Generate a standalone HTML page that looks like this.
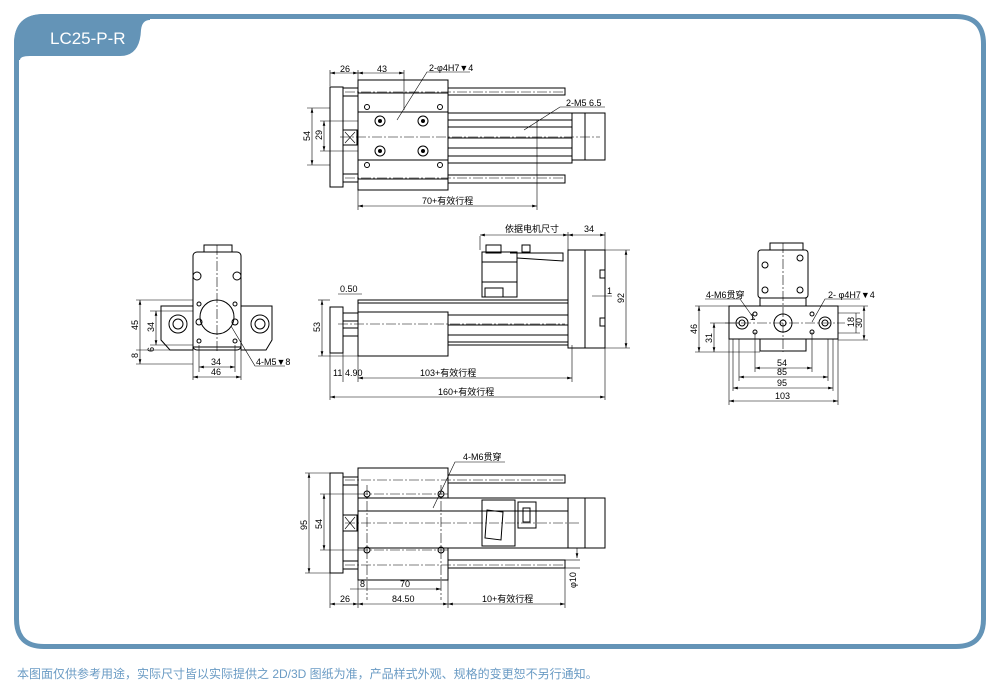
<!DOCTYPE html>
<html><head><meta charset="utf-8"><style>
html,body{margin:0;padding:0;background:#fff;width:1000px;height:693px;overflow:hidden}
svg{display:block}
text{font-family:"Liberation Sans","Noto Sans CJK SC",sans-serif;font-size:9px;fill:#000}
.l{stroke:#000;stroke-width:1;fill:none}
.t{stroke:#000;stroke-width:0.6;fill:none}
.c{stroke:#000;stroke-width:0.6;fill:none;stroke-dasharray:10 2 2 2}
.w{stroke:#000;stroke-width:1;fill:#fff}
</style></head><body>
<svg width="1000" height="693" viewBox="0 0 1000 693" xmlns="http://www.w3.org/2000/svg">
<defs><marker id="a" markerWidth="8" markerHeight="6" refX="8" refY="3" orient="auto-start-reverse"><path d="M0,0.8 L8,3 L0,5.2 Z" fill="#000"/></marker></defs>
<!-- frame -->
<path d="M16.5,44 Q16.5,16.5 44,16.5 L956,16.5 Q983.5,16.5 983.5,44 L983.5,619 Q983.5,646.5 956,646.5 L44,646.5 Q16.5,646.5 16.5,619 Z" fill="none" stroke="#6494b7" stroke-width="5"/>
<path d="M14,44 Q14,14 44,14 L150,14 L150,20 Q142,20 141,30 Q140,56 120,56 L30,56 Q20,56 20,60 L14,60 Z" fill="#6494b7"/>
<text x="50" y="44" style="font-size:17px;fill:#fff">LC25-P-R</text>
<text x="17" y="678" style="font-size:12px;fill:#6a9bc4">本图面仅供参考用途，实际尺寸皆以实际提供之 2D/3D 图纸为准，产品样式外观、规格的变更恕不另行通知。</text>

<!-- TOP VIEW -->
<g>
<rect class="w" x="330" y="87" width="13" height="100"/>
<rect class="l" x="343" y="88" width="15" height="8"/><rect class="l" x="343" y="174" width="15" height="8"/>
<rect class="w" x="343" y="130" width="14" height="15"/><path class="t" d="M345,132 L355,143 M355,132 L345,143"/>
<rect class="w" x="358" y="113" width="214" height="50"/>
<line class="l" x1="448" y1="120" x2="572" y2="120"/><line class="l" x1="448" y1="127" x2="572" y2="127"/><line class="l" x1="448" y1="138" x2="572" y2="138"/><line class="l" x1="448" y1="148" x2="572" y2="148"/><line class="l" x1="448" y1="156" x2="572" y2="156"/>
<rect class="w" x="448" y="88" width="117" height="7"/><rect class="w" x="448" y="175" width="117" height="8"/>
<rect class="w" x="358" y="80" width="90" height="110"/>
<line class="l" x1="358" y1="112" x2="448" y2="112"/><line class="l" x1="358" y1="160" x2="448" y2="160"/>
<line class="l" x1="358" y1="93" x2="448" y2="93"/><line class="l" x1="358" y1="179" x2="448" y2="179"/>
<circle class="l" cx="380" cy="121" r="5"/><circle cx="380" cy="121" r="2"/><circle class="l" cx="423" cy="121" r="5"/><circle cx="423" cy="121" r="2"/>
<circle class="l" cx="380" cy="151" r="5"/><circle cx="380" cy="151" r="2"/><circle class="l" cx="423" cy="151" r="5"/><circle cx="423" cy="151" r="2"/>
<circle class="l" cx="367" cy="107" r="2.5"/><circle class="l" cx="440" cy="107" r="2.5"/><circle class="l" cx="367" cy="165" r="2.5"/><circle class="l" cx="440" cy="165" r="2.5"/>
<rect class="w" x="572" y="113" width="33" height="47"/><line class="l" x1="585" y1="113" x2="585" y2="160"/>
<line class="c" x1="340" y1="137" x2="600" y2="137"/><line class="c" x1="345" y1="92" x2="565" y2="92"/><line class="c" x1="345" y1="178" x2="565" y2="178"/>
<!-- dims -->
<line class="t" x1="330" y1="70" x2="330" y2="86"/><line class="t" x1="358" y1="70" x2="358" y2="80"/><line class="t" x1="404" y1="70" x2="404" y2="110"/>
<line class="t" x1="330" y1="73" x2="358" y2="73" marker-start="url(#a)" marker-end="url(#a)"/><line class="t" x1="358" y1="73" x2="404" y2="73" marker-start="url(#a)" marker-end="url(#a)"/>
<text x="340" y="72">26</text><text x="377" y="72">43</text>
<path class="t" d="M397,120 L427,72 L470,72"/><text x="429" y="71">2-φ4H7▼4</text>
<path class="t" d="M524,130 L560,107 L605,107"/><text x="566" y="106">2-M5 6.5</text>
<line class="t" x1="307" y1="108" x2="330" y2="108"/><line class="t" x1="307" y1="165" x2="330" y2="165"/>
<line class="t" x1="312" y1="108" x2="312" y2="165" marker-start="url(#a)" marker-end="url(#a)"/>
<text transform="translate(310,141) rotate(-90)">54</text>
<line class="t" x1="320" y1="121" x2="358" y2="121"/><line class="t" x1="320" y1="151" x2="358" y2="151"/>
<line class="t" x1="324" y1="121" x2="324" y2="151" marker-start="url(#a)" marker-end="url(#a)"/>
<text transform="translate(322,140) rotate(-90)">29</text>
<line class="t" x1="358" y1="190" x2="358" y2="210"/><line class="t" x1="537" y1="120" x2="537" y2="210"/>
<line class="t" x1="358" y1="206" x2="537" y2="206" marker-start="url(#a)" marker-end="url(#a)"/>
<text x="422" y="204">70+有效行程</text>
</g>

<!-- SIDE VIEW -->
<g>
<rect class="w" x="330" y="307" width="13" height="46"/>
<rect class="l" x="343" y="313" width="15" height="8"/><rect class="l" x="343" y="328" width="15" height="8"/>
<rect class="w" x="358" y="300" width="214" height="45"/>
<line class="l" x1="358" y1="303" x2="572" y2="303"/><line class="l" x1="448" y1="315" x2="572" y2="315"/><line class="l" x1="448" y1="325" x2="572" y2="325"/><line class="l" x1="448" y1="335" x2="572" y2="335"/><line class="l" x1="448" y1="342" x2="572" y2="342"/>
<rect class="w" x="358" y="312" width="90" height="44"/>
<rect class="w" x="568" y="250" width="37" height="98"/><line class="l" x1="585" y1="250" x2="585" y2="348"/>
<rect class="l" x="600" y="270" width="5" height="8"/><rect class="l" x="600" y="318" width="5" height="8"/>
<rect class="w" x="482" y="252" width="35" height="45"/><rect class="l" x="486" y="245" width="15" height="8"/><rect class="l" x="522" y="245" width="8" height="7"/>
<line class="l" x1="482" y1="262" x2="517" y2="262"/><line class="l" x1="482" y1="282" x2="517" y2="282"/><rect class="l" x="485" y="288" width="18" height="9"/>
<path class="l" d="M510,253 L563,253 L563,261 L517,258"/>
<line class="c" x1="338" y1="324" x2="565" y2="324"/>
<line class="t" x1="480" y1="236" x2="480" y2="250"/><line class="t" x1="568" y1="232" x2="568" y2="250"/><line class="t" x1="605" y1="232" x2="605" y2="250"/>
<line class="t" x1="480" y1="235" x2="568" y2="235" marker-start="url(#a)" marker-end="url(#a)"/><line class="t" x1="568" y1="235" x2="605" y2="235" marker-start="url(#a)" marker-end="url(#a)"/>
<text x="505" y="232">依据电机尺寸</text><text x="584" y="232">34</text>
<line class="t" x1="605" y1="250" x2="630" y2="250"/><line class="t" x1="605" y1="348" x2="630" y2="348"/>
<line class="t" x1="626" y1="250" x2="626" y2="348" marker-start="url(#a)" marker-end="url(#a)"/>
<text transform="translate(624,303) rotate(-90)">92</text>
<line class="t" x1="592" y1="296" x2="612" y2="296"/><text x="607" y="294">1</text>
<line class="t" x1="318" y1="300" x2="330" y2="300"/><line class="t" x1="318" y1="356" x2="358" y2="356"/>
<line class="t" x1="322" y1="300" x2="322" y2="356" marker-start="url(#a)" marker-end="url(#a)"/>
<text transform="translate(320,332) rotate(-90)">53</text>
<line class="t" x1="338" y1="294" x2="362" y2="294"/><text x="340" y="292">0.50</text>
<line class="t" x1="330" y1="353" x2="330" y2="400"/><line class="t" x1="343" y1="353" x2="343" y2="382"/><line class="t" x1="358" y1="356" x2="358" y2="382"/><line class="t" x1="572" y1="345" x2="572" y2="382"/><line class="t" x1="605" y1="348" x2="605" y2="400"/>
<line class="t" x1="358" y1="378" x2="572" y2="378" marker-start="url(#a)" marker-end="url(#a)"/>
<text x="333" y="376">11</text><text x="345" y="376">4.90</text><text x="420" y="376">103+有效行程</text>
<line class="t" x1="330" y1="397" x2="605" y2="397" marker-start="url(#a)" marker-end="url(#a)"/>
<text x="438" y="395">160+有效行程</text>
</g>

<!-- LEFT END VIEW -->
<g>
<rect class="w" x="204" y="245" width="28" height="8"/>
<rect class="w" x="193" y="252" width="48" height="98" rx="4"/>
<circle class="l" cx="197" cy="276" r="4"/><circle class="l" cx="237" cy="276" r="4"/>
<path class="w" d="M161,306 L193,306 L193,350 L170,350 L161,340 Z"/><path class="w" d="M241,306 L272,306 L272,340 L266,350 L241,350 Z"/>
<circle class="l" cx="178" cy="324" r="9"/><circle class="l" cx="178" cy="324" r="5"/><circle class="l" cx="260" cy="324" r="9"/><circle class="l" cx="260" cy="324" r="5"/>
<circle class="l" cx="217" cy="317" r="17"/>
<circle class="l" cx="199" cy="322" r="3"/><circle class="l" cx="235" cy="322" r="3"/><circle class="l" cx="199" cy="304" r="2"/><circle class="l" cx="235" cy="304" r="2"/><circle class="l" cx="199" cy="341" r="2"/><circle class="l" cx="235" cy="341" r="2"/>
<line class="c" x1="217" y1="245" x2="217" y2="352"/>
<line class="l" x1="193" y1="347" x2="241" y2="347"/>
<line class="t" x1="136" y1="300" x2="193" y2="300"/><line class="t" x1="136" y1="364" x2="193" y2="364"/><line class="t" x1="150" y1="311" x2="193" y2="311"/><line class="t" x1="136" y1="350" x2="193" y2="350"/><line class="t" x1="150" y1="345" x2="193" y2="345"/>
<line class="t" x1="140" y1="300" x2="140" y2="364" marker-start="url(#a)" marker-end="url(#a)"/><text transform="translate(138,330) rotate(-90)">45</text>
<line class="t" x1="156" y1="311" x2="156" y2="345" marker-start="url(#a)" marker-end="url(#a)"/><text transform="translate(154,332) rotate(-90)">34</text>
<text transform="translate(154,352) rotate(-90)">6</text><text transform="translate(138,358) rotate(-90)">8</text>
<line class="t" x1="199" y1="345" x2="199" y2="372"/><line class="t" x1="235" y1="345" x2="235" y2="372"/><line class="t" x1="193" y1="350" x2="193" y2="380"/><line class="t" x1="241" y1="350" x2="241" y2="380"/>
<line class="t" x1="199" y1="367" x2="235" y2="367" marker-start="url(#a)" marker-end="url(#a)"/><text x="211" y="365">34</text>
<line class="t" x1="193" y1="377" x2="241" y2="377" marker-start="url(#a)" marker-end="url(#a)"/><text x="211" y="375">46</text>
<path class="t" d="M231,326 L255,366 L285,366"/><text x="256" y="365">4-M5▼8</text>
</g>

<!-- RIGHT END VIEW -->
<g>
<rect class="w" x="770" y="243" width="33" height="8"/>
<rect class="w" x="758" y="250" width="50" height="48" rx="3"/>
<circle class="l" cx="765" cy="265" r="3"/><circle class="l" cx="800" cy="258" r="3"/><circle class="l" cx="765" cy="290" r="3"/><circle class="l" cx="800" cy="290" r="3"/>
<rect class="w" x="760" y="298" width="46" height="10"/>
<rect class="w" x="729" y="306" width="109" height="33"/>
<rect class="w" x="760" y="339" width="46" height="12"/>
<circle class="l" cx="783" cy="323" r="9"/><circle class="l" cx="783" cy="323" r="3"/>
<circle class="l" cx="742" cy="323" r="6"/><circle class="l" cx="742" cy="323" r="3"/><circle class="l" cx="825" cy="323" r="6"/><circle class="l" cx="825" cy="323" r="3"/>
<circle class="l" cx="755" cy="314" r="2"/><circle class="l" cx="755" cy="332" r="2"/><circle class="l" cx="812" cy="314" r="2"/><circle class="l" cx="812" cy="332" r="2"/>
<line class="c" x1="783" y1="243" x2="783" y2="352"/><line class="c" x1="725" y1="323" x2="845" y2="323"/>
<path class="t" d="M755,320 L740,299 L705,299"/><text x="706" y="298">4-M6贯穿</text>
<path class="t" d="M812,322 L825,299 L860,299"/><text x="828" y="298">2- φ4H7▼4</text>
<line class="t" x1="695" y1="306" x2="729" y2="306"/><line class="t" x1="695" y1="352" x2="760" y2="352"/><line class="t" x1="710" y1="323" x2="740" y2="323"/>
<line class="t" x1="699" y1="306" x2="699" y2="352" marker-start="url(#a)" marker-end="url(#a)"/><text transform="translate(697,334) rotate(-90)">46</text>
<line class="t" x1="714" y1="323" x2="714" y2="352" marker-start="url(#a)" marker-end="url(#a)"/><text transform="translate(712,343) rotate(-90)">31</text>
<line class="t" x1="838" y1="313" x2="860" y2="313"/><line class="t" x1="838" y1="333" x2="860" y2="333"/><line class="t" x1="838" y1="306" x2="868" y2="306"/><line class="t" x1="838" y1="340" x2="868" y2="340"/>
<line class="t" x1="856" y1="313" x2="856" y2="333"/><text transform="translate(854,327) rotate(-90)">18</text>
<line class="t" x1="864" y1="306" x2="864" y2="340" marker-start="url(#a)" marker-end="url(#a)"/><text transform="translate(862,328) rotate(-90)">30</text>
<line class="t" x1="755" y1="332" x2="755" y2="372"/><line class="t" x1="812" y1="332" x2="812" y2="372"/><line class="t" x1="739" y1="339" x2="739" y2="381"/><line class="t" x1="828" y1="339" x2="828" y2="381"/><line class="t" x1="733" y1="339" x2="733" y2="391"/><line class="t" x1="833" y1="339" x2="833" y2="391"/><line class="t" x1="729" y1="339" x2="729" y2="405"/><line class="t" x1="838" y1="339" x2="838" y2="405"/>
<line class="t" x1="755" y1="368" x2="812" y2="368" marker-start="url(#a)" marker-end="url(#a)"/><text x="777" y="366">54</text>
<line class="t" x1="739" y1="377" x2="828" y2="377" marker-start="url(#a)" marker-end="url(#a)"/><text x="777" y="375">85</text>
<line class="t" x1="733" y1="388" x2="833" y2="388" marker-start="url(#a)" marker-end="url(#a)"/><text x="777" y="386">95</text>
<line class="t" x1="729" y1="401" x2="838" y2="401" marker-start="url(#a)" marker-end="url(#a)"/><text x="775" y="399">103</text>
<text x="750" y="320">1</text>
</g>

<!-- BOTTOM VIEW -->
<g>
<rect class="w" x="330" y="473" width="13" height="100"/>
<rect class="l" x="343" y="477" width="15" height="8"/><rect class="l" x="343" y="561" width="15" height="8"/>
<rect class="w" x="343" y="515" width="14" height="16"/><path class="t" d="M345,517 L355,529 M355,517 L345,529"/>
<rect class="w" x="448" y="475" width="117" height="8"/><rect class="w" x="448" y="560" width="117" height="8"/>
<rect class="w" x="358" y="468" width="90" height="112"/>
<rect class="w" x="358" y="498" width="217" height="50"/>
<line class="l" x1="358" y1="511" x2="575" y2="511"/>
<rect class="l" x="482" y="500" width="33" height="46"/><path class="l" d="M487,510 L503,512 L501,540 L485,538 Z"/>
<rect class="l" x="518" y="502" width="18" height="26"/><rect class="l" x="523" y="508" width="7" height="14"/>
<rect class="w" x="568" y="498" width="37" height="50"/><line class="l" x1="585" y1="498" x2="585" y2="548"/>
<circle class="l" cx="367" cy="494" r="3"/><circle class="l" cx="441" cy="494" r="3"/><circle class="l" cx="367" cy="550" r="3"/><circle class="l" cx="441" cy="550" r="3"/>
<line class="c" x1="345" y1="480" x2="565" y2="480"/><line class="c" x1="345" y1="565" x2="565" y2="565"/><line class="c" x1="345" y1="523" x2="580" y2="523"/>
<line class="c" x1="367" y1="485" x2="367" y2="600"/><line class="c" x1="441" y1="485" x2="441" y2="600"/>
<line class="c" x1="358" y1="494" x2="450" y2="494"/><line class="c" x1="358" y1="550" x2="450" y2="550"/>
<path class="t" d="M433,508 L455,462 L505,462"/><text x="463" y="460">4-M6贯穿</text>
<line class="t" x1="305" y1="473" x2="330" y2="473"/><line class="t" x1="305" y1="573" x2="330" y2="573"/>
<line class="t" x1="309" y1="473" x2="309" y2="573" marker-start="url(#a)" marker-end="url(#a)"/><text transform="translate(307,530) rotate(-90)">95</text>
<line class="t" x1="320" y1="494" x2="358" y2="494"/><line class="t" x1="320" y1="550" x2="358" y2="550"/>
<line class="t" x1="324" y1="494" x2="324" y2="550" marker-start="url(#a)" marker-end="url(#a)"/><text transform="translate(322,529) rotate(-90)">54</text>
<line class="t" x1="330" y1="573" x2="330" y2="608"/><line class="t" x1="358" y1="580" x2="358" y2="608"/><line class="t" x1="448" y1="580" x2="448" y2="608"/><line class="t" x1="565" y1="568" x2="565" y2="608"/>
<line class="t" x1="350" y1="589" x2="441" y2="589" marker-end="url(#a)"/><text x="360" y="587">8</text><text x="400" y="587">70</text>
<line class="t" x1="330" y1="604" x2="358" y2="604" marker-start="url(#a)" marker-end="url(#a)"/><text x="340" y="602">26</text>
<line class="t" x1="358" y1="604" x2="448" y2="604" marker-start="url(#a)" marker-end="url(#a)"/><text x="392" y="602">84.50</text>
<line class="t" x1="448" y1="604" x2="565" y2="604" marker-start="url(#a)" marker-end="url(#a)"/><text x="482" y="602">10+有效行程</text>
<line class="t" x1="577" y1="548" x2="577" y2="558" marker-end="url(#a)"/><line class="t" x1="565" y1="560" x2="580" y2="560"/><line class="t" x1="565" y1="568" x2="580" y2="568"/>
<text transform="translate(576,588) rotate(-90)">φ10</text>
</g>
</svg>
</body></html>
